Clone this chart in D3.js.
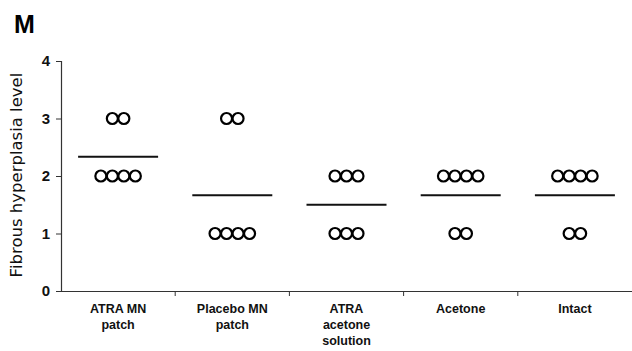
<!DOCTYPE html>
<html><head><meta charset="utf-8">
<script src="https://cdnjs.cloudflare.com/ajax/libs/d3/7.8.5/d3.min.js"></script>
<style>body{margin:0;background:#fff}</style>
</head><body>
<script>
const categories = ["ATRA MN patch", "Placebo MN patch", "ATRA acetone solution", "Acetone", "Intact"];
const labelLines = [["ATRA MN","patch"],["Placebo MN","patch"],["ATRA","acetone","solution"],["Acetone"],["Intact"]];
const scores = [
  [2,2,2,2,3,3],
  [1,1,1,1,3,3],
  [1,1,1,2,2,2],
  [1,1,2,2,2,2],
  [1,1,2,2,2,2]
];
const yTicks = [0,1,2,3,4];

const W = 632, H = 351;
const svg = d3.select("body").append("svg").attr("width", W).attr("height", H);
const x = d3.scaleBand().domain(categories).range([61, 632]);
const y = d3.scaleLinear().domain([0,4]).range([291, 61]);

// panel letter
svg.append("text").attr("x", 14).attr("y", 33).text("M")
  .attr("font-family","Liberation Sans, Arial, sans-serif").attr("font-weight","bold").attr("font-size",25);

// y axis
const ya = svg.append("g").attr("transform","translate(61,0)")
  .call(d3.axisLeft(y).tickValues(yTicks).tickFormat(d3.format("d")).tickSize(5).tickPadding(6));
ya.select(".domain").attr("stroke","#333").attr("stroke-width",1.2);
ya.selectAll(".tick line").attr("stroke","#333");
ya.selectAll(".tick text").attr("font-family","Liberation Sans, Arial, sans-serif").attr("font-weight","bold").attr("font-size",15).attr("fill","#111");

// x axis
const xa = svg.append("g").attr("transform","translate(0,291)")
  .call(d3.axisBottom(x).tickSize(0).tickFormat(""));
xa.select(".domain").attr("stroke","#333").attr("stroke-width",1.2);
xa.selectAll(".tick").remove();
// boundary ticks between categories
const bounds = categories.slice(1).map(c => x(c));
svg.selectAll(".btick").data(bounds).enter().append("line")
  .attr("x1", d=>d).attr("x2", d=>d).attr("y1",291).attr("y2",296).attr("stroke","#333");

// x labels
categories.forEach((c,i) => {
  const t = svg.append("text").attr("x", x(c)+x.bandwidth()/2).attr("y", 313)
    .attr("text-anchor","middle").attr("font-family","Liberation Sans, Arial, sans-serif")
    .attr("font-weight","bold").attr("font-size",12.5).attr("fill","#111");
  labelLines[i].forEach((l,j) => t.append("tspan").attr("x", x(c)+x.bandwidth()/2).attr("dy", j===0?0:16).text(l));
});

// y title
svg.append("text").attr("transform","translate(22,175) rotate(-90)").attr("text-anchor","middle")
  .attr("font-family","DejaVu Sans, sans-serif").attr("font-size",16.5).attr("fill","#111")
  .text("Fibrous hyperplasia level");

// points and means
const r = 5.5, sp = 11.5;
categories.forEach((c,i) => {
  const cx = x(c) + x.bandwidth()/2;
  const vals = scores[i];
  const groups = d3.groups(vals, v=>v);
  groups.forEach(([v, arr]) => {
    const n = arr.length;
    arr.forEach((_, k) => {
      svg.append("circle").attr("cx", cx + (k - (n-1)/2)*sp).attr("cy", y(v)).attr("r", r)
        .attr("fill","none").attr("stroke","#000").attr("stroke-width",2.2);
    });
  });
  const m = d3.mean(vals);
  svg.append("line").attr("x1", cx-40).attr("x2", cx+40).attr("y1", y(m)).attr("y2", y(m))
    .attr("stroke","#111").attr("stroke-width",2);
});
</script>
</body></html>
